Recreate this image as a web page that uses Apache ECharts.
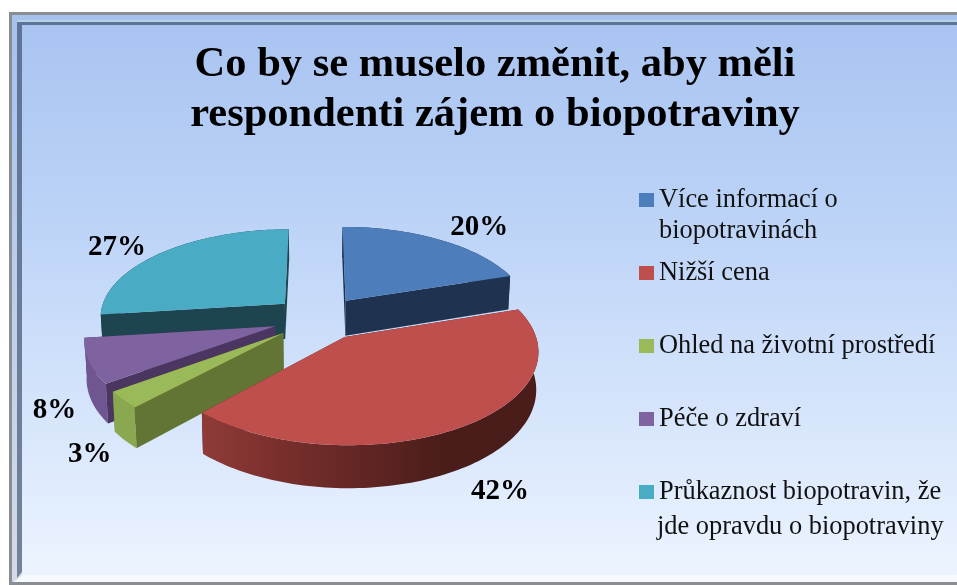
<!DOCTYPE html>
<html><head><meta charset="utf-8">
<style>html,body{margin:0;padding:0;background:#fff}#c{width:957px;height:585px}</style>
<script src="https://cdn.jsdelivr.net/npm/echarts@6/dist/echarts.min.js"></script>
</head><body><div id="c"></div>
<script>
const categories = ['Více informací o biopotravinách','Nižší cena','Ohled na životní prostředí','Péče o zdraví','Průkaznost biopotravin, že jde opravdu o biopotraviny'];
const values = [20,42,3,8,27];
const legendFirstLines = ['Více informací o','Nižší cena','Ohled na životní prostředí','Péče o zdraví','Průkaznost biopotravin, že'];
const legendSecondLines = ['biopotravinách','','','','jde opravdu o biopotraviny'];
const titleLines = ['Co by se muselo změnit, aby měli','respondenti zájem o biopotraviny'];
const topColors = ['#4d7ebb','#bf4f4c','#9aba59','#7f63a1','#4aabc5'];
const sideColors = ['#1f3350','#4a1d1b','#637534','#4b3561','#1e4450'];
const rimColors = ['#1f3350',null,'#8aa84f','#6f5690','#1e4450'];
const paintOrder = [4,0,3,2,1];
const labelNudge = [[40,-12],[36,65],[-33,55],[-34,49],[-45,-5]];

const P = {cx:319, cy:318, R:186, H:88, k:0.134, explode:0.25, depth:36, shrink:0.99};
const font = '"Liberation Serif","Times New Roman",serif';
const total = values.reduce((a,b)=>a+b,0);

function project(u,v,bottom){
  const w = 1 - P.k*v;
  let x = P.R*u/w, y = P.H*v/w;
  if(bottom){ x*=P.shrink; y+=P.depth/w; }
  return [P.cx+x, P.cy+y];
}
function renderSlice(i){
  return function(params, api){
    const val = api.value(0);
    const before = values.slice(0,i).reduce((a,b)=>a+b,0);
    const a0 = before/total*2*Math.PI, a1 = (before+val)/total*2*Math.PI, mid=(a0+a1)/2;
    const ou = P.explode*Math.sin(mid), ov = -P.explode*Math.cos(mid);
    const rim=[], n=Math.max(6,Math.ceil((a1-a0)*40));
    for(let s=0;s<=n;s++){const a=a0+(a1-a0)*s/n; rim.push([ou+Math.sin(a),ov-Math.cos(a)]);}
    const apex=[ou,ov];
    const top=[project(apex[0],apex[1],false)].concat(rim.map(p=>project(p[0],p[1],false)));
    const wall=(pts)=>pts.map(p=>project(p[0],p[1],false)).concat(pts.slice().reverse().map(p=>project(p[0],p[1],true)));
    const rimFill = i===1
      ? new echarts.graphic.LinearGradient(0,0,1,0,[{offset:0,color:'#8f3b38'},{offset:0.22,color:'#7a302d'},{offset:0.5,color:'#5f2523'},{offset:0.72,color:'#4a1d1b'},{offset:1,color:'#4a1c1a'}])
      : rimColors[i];
    const children=[
      {type:'polygon',shape:{points:wall(rim)},style:{fill:rimFill},z2:2},
      {type:'polygon',shape:{points:wall([apex,rim[0]])},style:{fill:sideColors[i]},z2:Math.sin(a0)<-1e-6?3:1},
      {type:'polygon',shape:{points:wall([apex,rim[n]])},style:{fill:sideColors[i]},z2:Math.sin(a1)>1e-6?3:1},
      {type:'polygon',shape:{points:top},style:{fill:topColors[i]},z2:4}
    ];
    const m=project(ou+Math.sin(mid),ov-Math.cos(mid),false);
    children.push({type:'text',z2:5,style:{text:val+'%',x:m[0]+labelNudge[i][0],y:m[1]+labelNudge[i][1],align:'center',verticalAlign:'middle',font:'bold 29px '+font,fill:'#000'}});
    return {type:'group',children};
  };
}
const series = paintOrder.map((i,ord)=>({
  type:'custom',name:categories[i],coordinateSystem:'none',z:2+ord,silent:true,
  itemStyle:{color:topColors[i]},
  data:[[values[i]]],renderItem:renderSlice(i)
}));
const frame = [
  {type:'rect',z:-10,silent:true,shape:{x:9,y:12,width:948,height:573},style:{fill:'#8a8d92'}},
  {type:'rect',z:-9,silent:true,shape:{x:12,y:15,width:945,height:567},style:{fill:new echarts.graphic.LinearGradient(0,0,0,1,[{offset:0,color:'#a5c2ee'},{offset:1,color:'#d5dbe6'}])}},
  {type:'rect',z:-8,silent:true,shape:{x:17,y:20,width:940,height:2},style:{fill:'#b6d3e2'}},
  {type:'rect',z:-8,silent:true,shape:{x:17,y:22,width:940,height:3},style:{fill:'#5e7398'}},
  {type:'polygon',z:-8,silent:true,shape:{points:[[17,22],[22,25],[22,572],[17,578]]},style:{fill:new echarts.graphic.LinearGradient(0,0,0,1,[{offset:0,color:'#5e7398'},{offset:1,color:'#74839b'}])}},
  {type:'rect',z:-7,silent:true,shape:{x:22,y:25,width:935,height:551},style:{fill:new echarts.graphic.LinearGradient(0,0,0,1,[{offset:0,color:'#a9c4f1'},{offset:0.35,color:'#bcd3f7'},{offset:1,color:'#ecf4ff'}])}},
  {type:'polygon',z:-6,silent:true,shape:{points:[[22,575],[957,575],[957,582],[14,582]]},style:{fill:'#f6faff'}},
  {type:'text',z:5,silent:true,style:{text:legendSecondLines[0],x:659,y:231,verticalAlign:'middle',font:'26.4px '+font,fill:'#111'}},
  {type:'text',z:5,silent:true,style:{text:legendSecondLines[4],x:657,y:527,verticalAlign:'middle',font:'26.4px '+font,fill:'#111'}}
];
const chart = echarts.init(document.getElementById('c'),null,{renderer:'canvas'});
chart.setOption({
  animation:false,
  backgroundColor:'#ffffff',
  title:{text:titleLines.join('\n'),left:490,top:35,textAlign:'center',
    textStyle:{fontFamily:font,fontWeight:'bold',fontSize:42.5,lineHeight:50,color:'#000'}},
  legend:{orient:'vertical',left:634,top:182,itemWidth:15,itemHeight:14,itemGap:47,icon:'rect',selectedMode:false,
    data:categories,
    formatter:name=>legendFirstLines[categories.indexOf(name)],
    textStyle:{fontFamily:font,fontSize:26.4,color:'#111'}},
  graphic:{elements:frame},
  series
});
</script></body></html>
